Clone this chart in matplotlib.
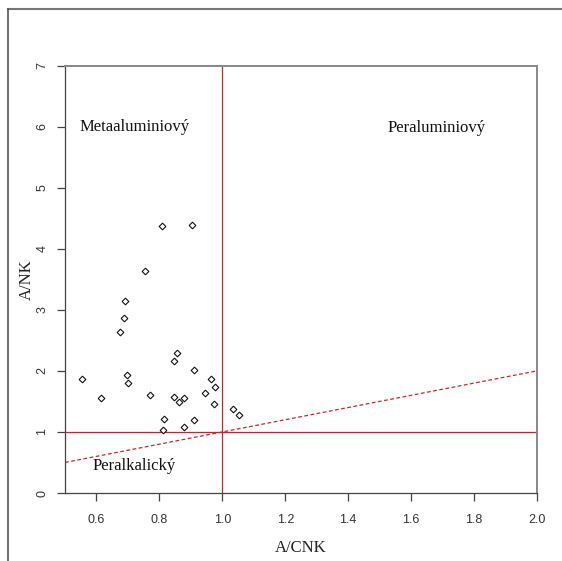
"""A/CNK vs A/NK discrimination diagram (Shand index)."""
import matplotlib
matplotlib.use("Agg")
import matplotlib.pyplot as plt
from matplotlib.lines import Line2D

# sample values
a_cnk = [0.807, 0.905, 0.754, 0.691, 0.687, 0.676, 0.856, 0.845, 0.909,
         0.554, 0.696, 0.701, 0.965, 0.976, 0.615, 0.770, 0.847, 0.862,
         0.879, 0.945, 0.973, 1.034, 1.054, 0.815, 0.909, 0.812, 0.879]
a_nk = [4.38, 4.39, 3.64, 3.14, 2.87, 2.64, 2.29, 2.16, 2.01,
        1.86, 1.93, 1.80, 1.86, 1.73, 1.56, 1.61, 1.58, 1.49,
        1.56, 1.63, 1.46, 1.38, 1.27, 1.21, 1.19, 1.03, 1.08]

x_ticks = [0.6, 0.8, 1.0, 1.2, 1.4, 1.6, 1.8, 2.0]
y_ticks = [0, 1, 2, 3, 4, 5, 6, 7]
diag_x = [0.5, 2.0]
diag_y = [0.5, 2.0]

region_labels = ["Metaaluminiový", "Peraluminiový", "Peralkalický"]
region_pos = [(0.72, 6.0), (1.68, 5.98), (0.72, 0.44)]

serif = "Liberation Serif"
sans = "Liberation Sans"
line_red = "#c0282d"

fig = plt.figure(figsize=(5.62, 5.61), dpi=100)
ax = fig.add_axes([0.1157, 0.1212, 0.8399, 0.7620])

ax.axvline(1.0, color=line_red, linewidth=0.9)
ax.axhline(1.0, color=line_red, linewidth=0.9)
ax.plot(diag_x, diag_y, color=line_red, linewidth=0.9, linestyle=(0, (3, 2)))
ax.plot(a_cnk, a_nk, linestyle="none", marker="D", markersize=3.4,
        markerfacecolor="white", markeredgecolor="#111111", markeredgewidth=0.8)

for label, (tx, ty) in zip(region_labels, region_pos):
    ax.text(tx, ty, label, ha="center", va="center", fontsize=12,
            family=serif, color="#111111")

ax.set_xlim(0.5, 2.0)
ax.set_ylim(0, 7)
ax.set_xticks(x_ticks)
ax.set_xticklabels([f"{v:.1f}" for v in x_ticks])
ax.set_yticks(y_ticks)
ax.set_yticklabels([str(v) for v in y_ticks], rotation=90, va="center")
ax.tick_params(direction="out", length=6, width=0.9, colors="#444444",
               labelsize=9, labelcolor="#333333", pad=9)
ax.tick_params(axis="y", pad=6)
for lab in ax.get_xticklabels() + ax.get_yticklabels():
    lab.set_family(sans)

ax.set_xlabel("A/CNK", fontsize=12, family=serif, color="#222222", labelpad=10)
ax.set_ylabel("A/NK", fontsize=12, family=serif, color="#222222", labelpad=1)

for side in ("left", "bottom"):
    ax.spines[side].set_color("#444444")
    ax.spines[side].set_linewidth(0.9)
for side in ("top", "right"):
    ax.spines[side].set_color("#888888")
    ax.spines[side].set_linewidth(1.4)

# outer frame (top and left edges only)
fig.add_artist(Line2D([7.5 / 562, 1.0], [1 - 8.5 / 561, 1 - 8.5 / 561],
                      transform=fig.transFigure, color="#777777", linewidth=1.5))
fig.add_artist(Line2D([7.5 / 562, 7.5 / 562], [0.0, 1 - 8.5 / 561],
                      transform=fig.transFigure, color="#555555", linewidth=1.2))

fig.savefig("out.png", dpi=100)
plt.close(fig)
